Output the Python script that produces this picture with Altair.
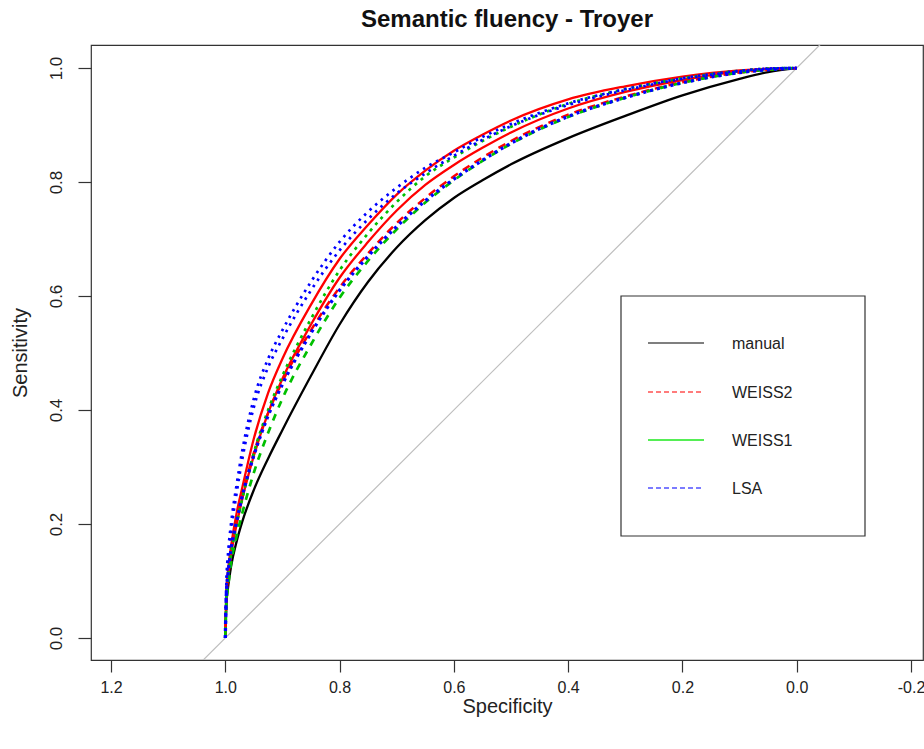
import altair as alt
import pandas as pd

# ---------------- data ----------------
spec = [1.0, 0.998, 0.995, 0.99, 0.98, 0.97, 0.95, 0.925, 0.9, 0.85, 0.8, 0.75, 0.7, 0.65,
        0.6, 0.55, 0.5, 0.4, 0.3, 0.2, 0.1, 0.05, 0.0]

manual   = [0, 0.06, 0.09, 0.125, 0.17, 0.205, 0.26, 0.315, 0.365, 0.46, 0.55, 0.625, 0.685, 0.733,
            0.772, 0.803, 0.831, 0.877, 0.916, 0.952, 0.981, 0.993, 1.0]
weiss2_a = [0, 0.08, 0.12, 0.16, 0.22, 0.265, 0.35, 0.43, 0.49, 0.585, 0.665, 0.725, 0.778, 0.82,
            0.855, 0.883, 0.908, 0.945, 0.968, 0.985, 0.996, 0.999, 1.0]
weiss2_b = [0, 0.07, 0.105, 0.145, 0.2, 0.245, 0.32, 0.395, 0.455, 0.55, 0.632, 0.695, 0.75, 0.795,
            0.83, 0.86, 0.887, 0.929, 0.958, 0.979, 0.994, 0.998, 1.0]
weiss2_c = [0, 0.075, 0.11, 0.15, 0.205, 0.25, 0.325, 0.395, 0.45, 0.54, 0.615, 0.675, 0.728, 0.772,
            0.81, 0.843, 0.872, 0.918, 0.95, 0.975, 0.992, 0.997, 1.0]
weiss1_a = [0, 0.07, 0.105, 0.145, 0.2, 0.245, 0.325, 0.40, 0.46, 0.56, 0.645, 0.71, 0.765, 0.81,
            0.843, 0.872, 0.897, 0.937, 0.963, 0.982, 0.995, 0.999, 1.0]
weiss1_b = [0, 0.06, 0.09, 0.13, 0.18, 0.22, 0.29, 0.36, 0.42, 0.515, 0.597, 0.662, 0.717, 0.764,
            0.803, 0.837, 0.867, 0.914, 0.948, 0.974, 0.992, 0.997, 1.0]
lsa_a    = [0, 0.1, 0.15, 0.2, 0.27, 0.33, 0.42, 0.49, 0.54, 0.625, 0.695, 0.748, 0.79, 0.825,
            0.852, 0.879, 0.902, 0.938, 0.963, 0.982, 0.995, 0.999, 1.0]
lsa_b    = [0, 0.09, 0.135, 0.185, 0.255, 0.315, 0.405, 0.475, 0.525, 0.61, 0.68, 0.735, 0.78, 0.815,
            0.846, 0.874, 0.898, 0.935, 0.961, 0.981, 0.994, 0.999, 1.0]
lsa_c    = [0, 0.08, 0.115, 0.155, 0.205, 0.25, 0.32, 0.39, 0.445, 0.535, 0.61, 0.67, 0.722, 0.767,
            0.805, 0.838, 0.868, 0.915, 0.948, 0.974, 0.992, 0.997, 1.0]

diag_spec = [1.1, -0.1]
diag_sens = [-0.1, 1.1]

legend_labels = ["manual", "WEISS2", "WEISS1", "LSA"]
x_ticks = [1.2, 1.0, 0.8, 0.6, 0.4, 0.2, 0.0, -0.2]
y_ticks = [0.0, 0.2, 0.4, 0.6, 0.8, 1.0]

# ---------------- styles ----------------
curve_series = {
    "manual": manual, "weiss2_a": weiss2_a, "weiss2_b": weiss2_b, "weiss2_c": weiss2_c,
    "weiss1_a": weiss1_a, "weiss1_b": weiss1_b,
    "lsa_a": lsa_a, "lsa_b": lsa_b, "lsa_c": lsa_c,
}
curve_style = {
    "manual":   dict(color="#000000", strokeWidth=2.3),
    "weiss2_a": dict(color="#ff0000", strokeWidth=2.3),
    "weiss2_b": dict(color="#ff0000", strokeWidth=2.3),
    "weiss2_c": dict(color="#ff0000", strokeWidth=2.5, strokeDash=[8, 6]),
    "weiss1_a": dict(color="#00c000", strokeWidth=2.7, strokeDash=[3, 5]),
    "weiss1_b": dict(color="#00c000", strokeWidth=2.7, strokeDash=[7, 7]),
    "lsa_a":    dict(color="#0000ff", strokeWidth=2.7, strokeDash=[2.5, 5]),
    "lsa_b":    dict(color="#0000ff", strokeWidth=2.7, strokeDash=[2.5, 5]),
    "lsa_c":    dict(color="#0000ff", strokeWidth=3.3, strokeDash=[3, 4]),
}
legend_style = [
    dict(color="#000000", strokeWidth=1.2),
    dict(color="#ff5050", strokeWidth=1.3, strokeDash=[5, 3]),
    dict(color="#55ee55", strokeWidth=2.2),
    dict(color="#5050ff", strokeWidth=1.3, strokeDash=[5, 3]),
]

FONT = "Liberation Sans"
W, H = 832, 615

rows = []
for name, vals in curve_series.items():
    for i, (s, v) in enumerate(zip(spec, vals)):
        rows.append({"curve": name, "spec": s, "sens": v, "i": i})
df = pd.DataFrame(rows)
diag_df = pd.DataFrame({"spec": diag_spec, "sens": diag_sens, "i": [0, 1]})
one = pd.DataFrame({"k": [0]})

xscale = alt.Scale(domain=[-0.221, 1.235], reverse=True, nice=False, zero=False)
yscale = alt.Scale(domain=[-0.0386, 1.0404], nice=False, zero=False)

xaxis = alt.Axis(values=x_ticks, labelExpr="replace(format(datum.value, '.1f'), '\u2212', '-')",
                 grid=False, domain=False, tickSize=12, tickColor="#333", tickWidth=1.2,
                 labelFont=FONT, labelFontSize=16, labelColor="#222", labelPadding=7,
                 title="Specificity", titleFont=FONT, titleFontSize=20, titleFontWeight="normal",
                 titleColor="#222", titleY=46, titleBaseline="middle", labelFlush=False)
yaxis = alt.Axis(values=y_ticks, format=".1f", grid=False, domain=False, tickSize=13,
                 tickColor="#333", tickWidth=1.2, labelAngle=270, labelAlign="center",
                 labelBaseline="bottom", labelFont=FONT, labelFontSize=17, labelColor="#222",
                 labelPadding=13, title="Sensitivity", titleFont=FONT, titleFontSize=20,
                 titleFontWeight="normal", titleColor="#222", titleAngle=270, titleX=-71,
                 titleY=H / 2, titleBaseline="middle", labelFlush=False)

base = alt.Chart(df)

diag = alt.Chart(diag_df).mark_line(color="#bebebe", strokeWidth=1.2, clip=True).encode(
    x=alt.X("spec:Q", scale=xscale, axis=xaxis),
    y=alt.Y("sens:Q", scale=yscale, axis=yaxis),
    order="i:Q",
)

layers = [diag]
for name in curve_series:
    layers.append(
        base.transform_filter(alt.datum.curve == name)
        .mark_line(clip=True, strokeCap="butt", interpolate="monotone", **curve_style[name])
        .encode(x=alt.X("spec:Q", scale=xscale), y=alt.Y("sens:Q", scale=yscale), order="i:Q")
    )

# legend box
lx0, lx1, ly0, ly1 = 530, 774, 251, 491
layers.append(
    alt.Chart(one).mark_rect(fill="white", stroke="#333", strokeWidth=1.2).encode(
        x=alt.value(lx0), x2=alt.value(lx1), y=alt.value(ly0), y2=alt.value(ly1))
)
row_y = [298, 347, 395, 443]
for lab, st, yy in zip(legend_labels, legend_style, row_y):
    layers.append(
        alt.Chart(one).mark_rule(**st).encode(
            x=alt.value(557), x2=alt.value(613), y=alt.value(yy))
    )
    layers.append(
        alt.Chart(one).mark_text(font=FONT, fontSize=16, align="left", baseline="middle",
                                 color="#222").encode(
            x=alt.value(641), y=alt.value(yy + 1), text=alt.value(lab))
    )

chart = alt.layer(*layers).properties(
    width=W, height=H,
    title=alt.TitleParams("Semantic fluency - Troyer", font=FONT, fontSize=24, fontWeight="bold",
                          color="#111", anchor="middle", frame="group", offset=13),
    autosize=alt.AutoSizeParams(type="none"),
    padding={"left": 91, "top": 45, "right": 1, "bottom": 89},
    background="white",
).configure_view(stroke="#333", strokeWidth=1.2)

chart.save("out.html", embed_options={"renderer": "svg", "actions": False})
